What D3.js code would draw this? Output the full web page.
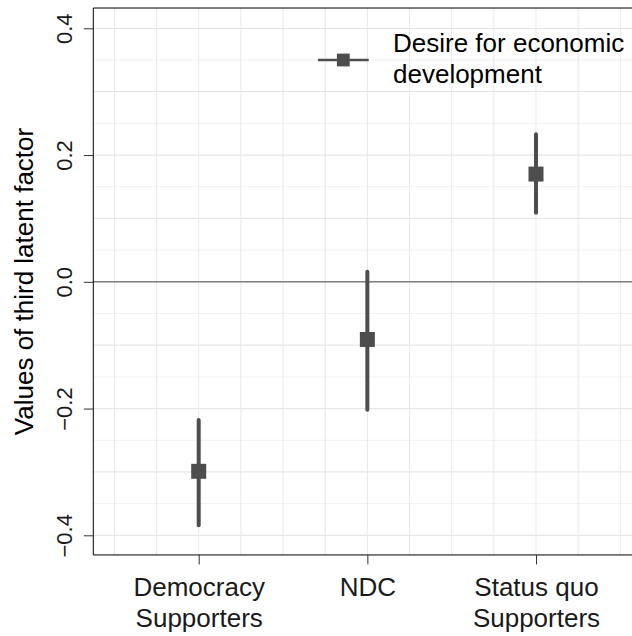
<!doctype html>
<html>
<head>
<meta charset="UTF-8">
<title>Third latent factor</title>
<script src="https://cdn.jsdelivr.net/npm/d3@7"></script>
<style>
body { margin: 0; background: #fff; }
text { font-family: "Liberation Sans", Arial, Helvetica, sans-serif; }
</style>
</head>
<body>
<script>
// values
var groups = ["Democracy\nSupporters", "NDC", "Status quo\nSupporters"];
var estimate = [-0.299, -0.091, 0.170];
var lower = [-0.384, -0.202, 0.109];
var upper = [-0.218, 0.016, 0.233];
var yTicks = [-0.4, -0.2, 0.0, 0.2, 0.4];
var legendLabel = ["Desire for economic", "development"];

var w = 632, h = 636;
var ink = "#4d4d4d";

var svg = d3.select("body").append("svg")
  .attr("width", w)
  .attr("height", h);

// x is continuous on the group index, like the original plot
var x = d3.scaleLinear().domain([0.375, 3.625]).range([93.3, 641.4]);
var y = d3.scaleLinear().domain([-0.4, 0.4]).range([535.3, 28.3]);
var panelTop = y(0.432), panelBottom = y(-0.431);
var panelLeft = x(0.375);

// grid
svg.append("g").selectAll("line")
  .data(d3.range(-0.4, 0.4001, 0.05))
  .enter().append("line")
  .attr("x1", panelLeft).attr("x2", w)
  .attr("y1", function(d) { return y(d); })
  .attr("y2", function(d) { return y(d); })
  .attr("stroke", function(d, i) { return i % 2 == 0 ? "#e6e6e6" : "#efefef"; })
  .attr("stroke-width", function(d, i) { return i % 2 == 0 ? 1.2 : 0.9; });

svg.append("g").selectAll("line")
  .data(d3.range(0.5, 3.51, 0.25))
  .enter().append("line")
  .attr("x1", function(d) { return x(d); })
  .attr("x2", function(d) { return x(d); })
  .attr("y1", panelTop).attr("y2", panelBottom)
  .attr("stroke", "#e8e8e8")
  .attr("stroke-width", 1);

// zero line
svg.append("line")
  .attr("x1", panelLeft).attr("x2", w)
  .attr("y1", y(0)).attr("y2", y(0))
  .attr("stroke", "#808080")
  .attr("stroke-width", 1.4);

// panel border (top)
svg.append("line")
  .attr("x1", panelLeft).attr("x2", w)
  .attr("y1", panelTop).attr("y2", panelTop)
  .attr("stroke", "#000").attr("stroke-width", 1);

// error bars
var idx = d3.range(groups.length);
svg.append("g").selectAll("line")
  .data(idx)
  .enter().append("line")
  .attr("x1", function(i) { return x(i + 1); })
  .attr("x2", function(i) { return x(i + 1); })
  .attr("y1", function(i) { return y(lower[i]); })
  .attr("y2", function(i) { return y(upper[i]); })
  .attr("stroke", ink)
  .attr("stroke-width", 4)
  .attr("stroke-linecap", "round");

var sq = 15;
svg.append("g").selectAll("rect")
  .data(idx)
  .enter().append("rect")
  .attr("x", function(i) { return x(i + 1) - sq / 2; })
  .attr("y", function(i) { return y(estimate[i]) - sq / 2; })
  .attr("width", sq).attr("height", sq)
  .attr("fill", ink);

// y axis
var yAxis = d3.axisLeft(y).tickValues(yTicks).tickSize(9.5)
  .tickFormat(function(d) { return d3.format(".1f")(d).replace("-", "\u2212"); });
var gy = svg.append("g")
  .attr("transform", "translate(" + panelLeft + ",0)")
  .call(yAxis);
gy.select(".domain").attr("d", "M0," + panelTop + "V" + panelBottom).attr("stroke", "#000");
gy.selectAll(".tick line").attr("stroke", "#333");
gy.selectAll(".tick text")
  .attr("x", null).attr("dy", null)
  .attr("transform", "translate(-21.5,0) rotate(-90)")
  .attr("text-anchor", "middle")
  .attr("font-size", 22)
  .attr("fill", "#1a1a1a");

// x axis
var xAxis = d3.axisBottom(x).tickValues([1, 2, 3]).tickSize(9.5)
  .tickFormat(function(d) { return groups[d - 1]; });
var gx = svg.append("g")
  .attr("transform", "translate(0," + panelBottom + ")")
  .call(xAxis);
gx.select(".domain").attr("d", "M" + panelLeft + ",0H" + w).attr("stroke", "#000");
gx.selectAll(".tick line").attr("stroke", "#333");
gx.selectAll(".tick text")
  .attr("font-size", 26)
  .attr("fill", "#1a1a1a")
  .attr("y", 0).attr("dy", null)
  .each(function(d) {
    var t = d3.select(this);
    var lines = groups[d - 1].split("\n");
    t.text(null);
    lines.forEach(function(s, k) {
      t.append("tspan").attr("x", 0).attr("y", 41.5 + k * 31).text(s);
    });
  });

// y title
svg.append("text")
  .attr("transform", "translate(33," + ((panelTop + panelBottom) / 2) + ") rotate(-90)")
  .attr("text-anchor", "middle")
  .attr("font-size", 26)
  .attr("fill", "#000")
  .text("Values of third latent factor");

// legend
var lg = svg.append("g");
lg.append("line")
  .attr("x1", 318).attr("x2", 368.7)
  .attr("y1", 60).attr("y2", 60)
  .attr("stroke", ink).attr("stroke-width", 2.4);
lg.append("rect")
  .attr("x", 343.3 - 6.4).attr("y", 60 - 6.4)
  .attr("width", 12.8).attr("height", 12.8)
  .attr("fill", ink);
lg.selectAll("text")
  .data(legendLabel)
  .enter().append("text")
  .attr("x", 393)
  .attr("y", function(d, i) { return 52 + i * 30.5; })
  .attr("font-size", 26)
  .attr("fill", "#000")
  .text(function(d) { return d; });
</script>
</body>
</html>
